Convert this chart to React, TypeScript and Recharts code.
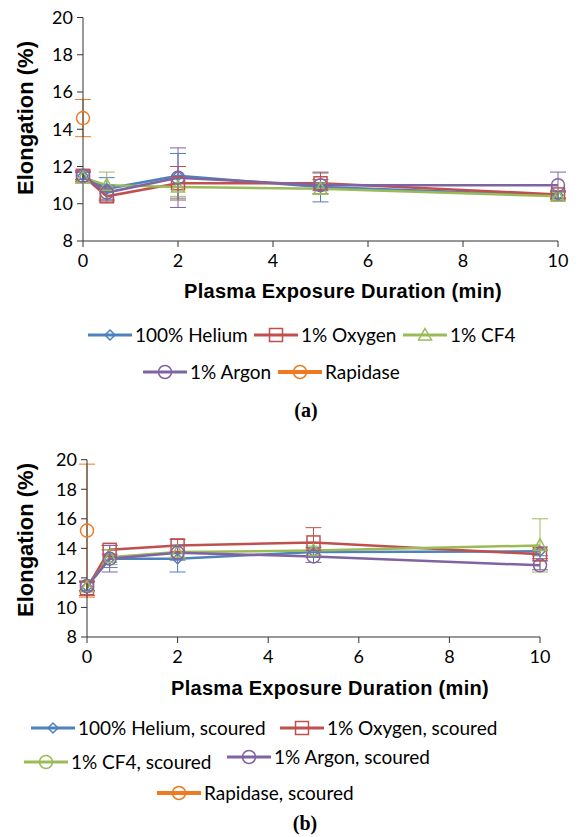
import type { ReactElement } from 'react';
import { CartesianGrid, ErrorBar, Line, LineChart, XAxis, YAxis } from 'recharts';

// exposure times (min) shared by every plasma series
const TIMES = [0, 0.5, 2, 5, 10];
const RAPIDASE_TIMES = [0];
const X_TICKS = [0, 2, 4, 6, 8, 10];
const Y_TICKS = [8, 10, 12, 14, 16, 18, 20];

// panel (a)
const HELIUM_A = [11.5, 10.8, 11.5, 10.9, 10.45];
const HELIUM_A_ERR = [0.2, 0.6, 1.2, 0.8, 0.2];
const OXYGEN_A = [11.5, 10.4, 11.1, 11.1, 10.5];
const OXYGEN_A_ERR = [0.3, 0.3, 0.9, 0.55, 0.2];
const CF4_A = [11.4, 11.0, 10.9, 10.8, 10.4];
const CF4_A_ERR = [0.3, 0.7, 0.5, 0.3, 0.2];
const ARGON_A = [11.5, 10.6, 11.4, 11.0, 11.0];
const ARGON_A_ERR = [0.2, 0.4, 1.6, 0.3, 0.7];
const RAPIDASE_A = [14.6];
const RAPIDASE_A_ERR = [1.0];

// panel (b)
const HELIUM_B = [11.4, 13.3, 13.3, 13.75, 13.8];
const HELIUM_B_ERR = [0.3, 0.6, 0.9, 0.3, 0.3];
const OXYGEN_B = [11.3, 13.9, 14.2, 14.4, 13.6];
const OXYGEN_B_ERR = [0.5, 0.3, 0.4, 1.0, 0.3];
const CF4_B = [11.4, 13.4, 13.75, 13.85, 14.2];
const CF4_B_ERR = [0.3, 0.5, 0.4, 0.3, 1.8];
const ARGON_B = [11.45, 13.3, 13.7, 13.45, 12.85];
const ARGON_B_ERR = [0.3, 0.9, 0.5, 0.4, 0.3];
const RAPIDASE_B = [15.2];
const RAPIDASE_B_ERR = [4.5];

const BLUE = '#4F81BD';
const RED = '#C0504D';
const GREEN = '#9BBB59';
const PURPLE = '#8064A2';
const ORANGE = '#EE7B22';

const TICK_FONT = 'Lato, "Noto Sans", sans-serif';
const TITLE_FONT = '"Liberation Sans", Arial, sans-serif';

type Shape = 'diamond' | 'square' | 'triangle' | 'circle';

interface Series {
    name: string;
    color: string;
    shape: Shape;
    times: number[];
    values: number[];
    errors: number[];
}

interface LegendEntry {
    name: string;
    color: string;
    shape: Shape;
    left: number;
    top: number;
    thick?: boolean;
}

function marker(shape: Shape, x: number, y: number, color: string, key?: string): ReactElement {
    const sw = 1.5;
    if (shape === 'diamond') {
        return <path key={key} d={`M${x},${y - 5}L${x + 5},${y}L${x},${y + 5}L${x - 5},${y}Z`} fill="none" stroke={color} strokeWidth={sw} />;
    }
    if (shape === 'square') {
        return <rect key={key} x={x - 6.5} y={y - 6.5} width={13} height={13} fill="none" stroke={color} strokeWidth={sw} />;
    }
    if (shape === 'triangle') {
        return <path key={key} d={`M${x},${y - 6.5}L${x + 6.5},${y + 5}L${x - 6.5},${y + 5}Z`} fill="none" stroke={color} strokeWidth={sw} />;
    }
    return <circle key={key} cx={x} cy={y} r={6.5} fill="none" stroke={color} strokeWidth={sw} />;
}

function toRows(times: number[], values: number[], errors: number[]) {
    return times.map((t, i) => ({ t, v: values[i], e: errors[i] }));
}

function Panel(props: {
    top: number;
    height: number;
    plotTop: number;
    yAxisWidth: number;
    rightGap: number;
    series: Series[];
}): ReactElement {
    const { top, height, plotTop, yAxisWidth, rightGap, series } = props;
    return (
        <div style={{ position: 'absolute', left: 0, top, width: 581, height }}>
            <LineChart width={581} height={height} margin={{ top: plotTop, right: rightGap, left: 0, bottom: 0 }}>
                <CartesianGrid stroke="none" />
                <XAxis
                    type="number"
                    dataKey="t"
                    domain={[0, 10]}
                    ticks={X_TICKS}
                    height={30}
                    stroke="#333"
                    tickSize={6}
                    tickMargin={7}
                    tick={{ fill: '#000', fontSize: 18, fontFamily: TICK_FONT }}
                    allowDuplicatedCategory={false}
                />
                <YAxis
                    type="number"
                    domain={[8, 20]}
                    ticks={Y_TICKS}
                    width={yAxisWidth}
                    stroke="#333"
                    tickSize={6}
                    tickMargin={4}
                    tick={{ fill: '#000', fontSize: 18, fontFamily: TICK_FONT }}
                />
                {series.map((s) => (
                    <Line
                        key={s.name}
                        data={toRows(s.times, s.values, s.errors)}
                        dataKey="v"
                        stroke={s.color}
                        strokeWidth={2.5}
                        isAnimationActive={false}
                        activeDot={false}
                        dot={(p: { cx?: number; cy?: number; index?: number }) =>
                            p.cx == null || p.cy == null
                                ? <g key={`${s.name}-${p.index}`} />
                                : marker(s.shape, p.cx, p.cy, s.color, `${s.name}-${p.index}`)
                        }
                    >
                        <ErrorBar dataKey="e" width={8} stroke={s.color} strokeWidth={1} direction="y" isAnimationActive={false} />
                    </Line>
                ))}
            </LineChart>
        </div>
    );
}

function LegendItem({ e, font }: { e: LegendEntry; font: number }): ReactElement {
    return (
        <div style={{ position: 'absolute', left: e.left, top: e.top, height: 16, display: 'flex', alignItems: 'center', whiteSpace: 'nowrap' }}>
            <svg width={44} height={16} style={{ display: 'block' }}>
                <line x1={0} y1={8} x2={44} y2={8} stroke={e.color} strokeWidth={e.thick ? 4 : 3} />
                {marker(e.shape, 22, 8, e.color)}
            </svg>
            <span style={{ marginLeft: 3, fontSize: font, fontFamily: TICK_FONT, color: '#000', lineHeight: '16px' }}>{e.name}</span>
        </div>
    );
}

const SERIES_A: Series[] = [
    { name: '100% Helium', color: BLUE, shape: 'diamond', times: TIMES, values: HELIUM_A, errors: HELIUM_A_ERR },
    { name: '1% Oxygen', color: RED, shape: 'square', times: TIMES, values: OXYGEN_A, errors: OXYGEN_A_ERR },
    { name: '1% CF4', color: GREEN, shape: 'triangle', times: TIMES, values: CF4_A, errors: CF4_A_ERR },
    { name: '1% Argon', color: PURPLE, shape: 'circle', times: TIMES, values: ARGON_A, errors: ARGON_A_ERR },
    { name: 'Rapidase', color: ORANGE, shape: 'circle', times: RAPIDASE_TIMES, values: RAPIDASE_A, errors: RAPIDASE_A_ERR },
];

const SERIES_B: Series[] = [
    { name: '100% Helium, scoured', color: BLUE, shape: 'diamond', times: TIMES, values: HELIUM_B, errors: HELIUM_B_ERR },
    { name: '1% Oxygen, scoured', color: RED, shape: 'square', times: TIMES, values: OXYGEN_B, errors: OXYGEN_B_ERR },
    { name: '1% CF4, scoured', color: GREEN, shape: 'triangle', times: TIMES, values: CF4_B, errors: CF4_B_ERR },
    { name: '1% Argon, scoured', color: PURPLE, shape: 'circle', times: TIMES, values: ARGON_B, errors: ARGON_B_ERR },
    { name: 'Rapidase, scoured', color: ORANGE, shape: 'circle', times: RAPIDASE_TIMES, values: RAPIDASE_B, errors: RAPIDASE_B_ERR },
];

const LEGEND_A: LegendEntry[] = [
    { name: '100% Helium', color: BLUE, shape: 'diamond', left: 88, top: 327 },
    { name: '1% Oxygen', color: RED, shape: 'square', left: 254, top: 327 },
    { name: '1% CF4', color: GREEN, shape: 'triangle', left: 403, top: 327 },
    { name: '1% Argon', color: PURPLE, shape: 'circle', left: 143, top: 364 },
    { name: 'Rapidase', color: ORANGE, shape: 'circle', left: 278, top: 364, thick: true },
];

const LEGEND_B: LegendEntry[] = [
    { name: '100% Helium, scoured', color: BLUE, shape: 'diamond', left: 31, top: 720 },
    { name: '1% Oxygen, scoured', color: RED, shape: 'square', left: 280, top: 720 },
    { name: '1% CF4, scoured', color: GREEN, shape: 'circle', left: 24, top: 754 },
    { name: '1% Argon, scoured', color: PURPLE, shape: 'circle', left: 227, top: 749 },
    { name: 'Rapidase, scoured', color: ORANGE, shape: 'circle', left: 157, top: 785, thick: true },
];

function Centered({ x, y, children, style }: { x: number; y: number; children: string; style: React.CSSProperties }): ReactElement {
    return (
        <div style={{ position: 'absolute', left: x, top: y, transform: 'translate(-50%, -50%)', whiteSpace: 'nowrap', ...style }}>
            {children}
        </div>
    );
}

export default function App(): ReactElement {
    const axisTitle: React.CSSProperties = { fontFamily: TITLE_FONT, fontWeight: 'bold', fontSize: 20, letterSpacing: 0.3, color: '#000' };
    const yTitle: React.CSSProperties = { fontFamily: TITLE_FONT, fontWeight: 'bold', fontSize: 22, color: '#000', transform: 'translate(-50%, -50%) rotate(-90deg)' };
    const caption: React.CSSProperties = { fontFamily: '"Liberation Serif", "Times New Roman", serif', fontWeight: 'bold', fontSize: 20, color: '#000' };
    return (
        <div style={{ position: 'absolute', left: 0, top: 0, width: 581, height: 837, background: '#fff', overflow: 'hidden' }}>
            <Panel top={0} height={271} plotTop={17.5} yAxisWidth={83} rightGap={23} series={SERIES_A} />
            <Centered x={26} y={118} style={yTitle}>Elongation (%)</Centered>
            <Centered x={343} y={291} style={axisTitle}>Plasma Exposure Duration (min)</Centered>
            {LEGEND_A.map((e) => <LegendItem key={e.name} e={e} font={19} />)}
            <Centered x={306} y={410} style={caption}>(a)</Centered>

            <Panel top={440} height={227} plotTop={19.7} yAxisWidth={87} rightGap={41} series={SERIES_B} />
            <Centered x={26} y={540} style={yTitle}>Elongation (%)</Centered>
            <Centered x={330} y={688} style={axisTitle}>Plasma Exposure Duration (min)</Centered>
            {LEGEND_B.map((e) => <LegendItem key={e.name} e={e} font={19} />)}
            <Centered x={305} y={823} style={caption}>(b)</Centered>
        </div>
    );
}
